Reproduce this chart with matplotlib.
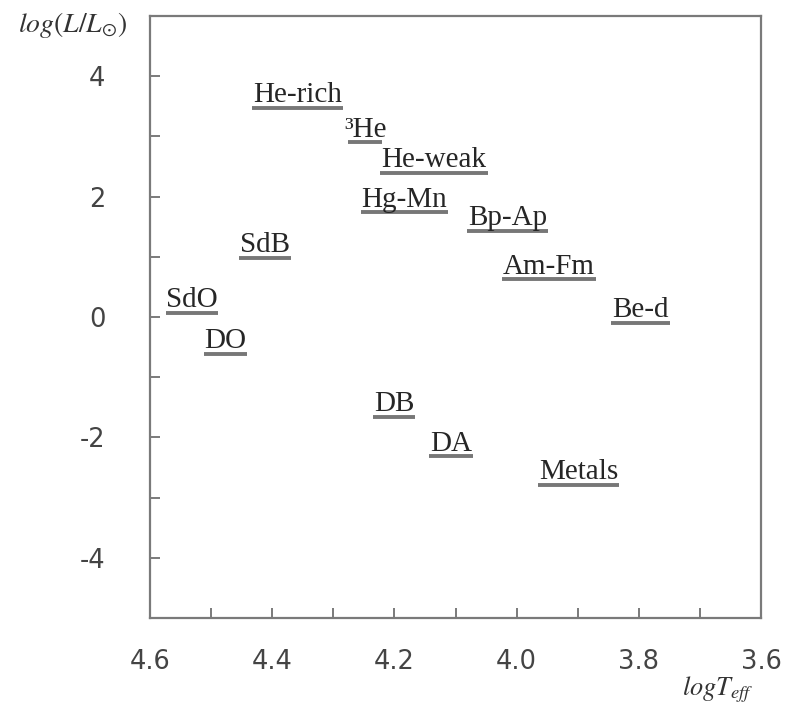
import matplotlib
matplotlib.use('Agg')
import matplotlib.pyplot as plt
import numpy as np

# --- dados: classes de estrelas no diagrama HR ---
labels = ['He-rich', '\u00b3He', 'He-weak', 'Hg-Mn', 'Bp-Ap', 'SdB', 'Am-Fm',
          'SdO', 'Be-d', 'DO', 'DB', 'DA', 'Metals']
teff_start = [4.433, 4.276, 4.224, 4.255, 4.081, 4.454, 4.024,
              4.574, 3.846, 4.512, 4.235, 4.143, 3.965]
teff_end = [4.284, 4.220, 4.047, 4.112, 3.949, 4.369, 3.870,
            4.489, 3.749, 4.441, 4.166, 4.071, 3.832]
log_lum = [3.48, 2.90, 2.40, 1.74, 1.43, 0.98, 0.63,
           0.07, -0.10, -0.61, -1.66, -2.31, -2.79]

x_major = [4.6, 4.4, 4.2, 4.0, 3.8, 3.6]
x_minor = [4.5, 4.3, 4.1, 3.9, 3.7]
y_major = [4, 2, 0, -2, -4]
y_minor = [3, 1, -1, -3]

W, H = 795, 711
fig = plt.figure(figsize=(W / 100, H / 100), dpi=100)
ax = fig.add_axes([150 / W, 1 - 618 / H, 611 / W, 602 / H])

ax.set_xlim(4.6, 3.6)
ax.set_ylim(-5, 5)

spine_col = '#7a7a7a'
for s in ax.spines.values():
    s.set_color(spine_col)
    s.set_linewidth(1.6)

ax.set_xticks(x_major)
ax.set_xticks(x_minor, minor=True)
ax.set_yticks(y_major)
ax.set_yticks(y_minor, minor=True)
ax.set_xticklabels([f'{v:.1f}' for v in x_major])
ax.set_yticklabels([str(v) for v in y_major])
ax.tick_params(which='both', direction='in', length=7, width=1.4, color=spine_col,
               top=False, right=False)
ax.tick_params(axis='x', which='major', pad=22, labelsize=18.5, labelcolor='#444444')
ax.tick_params(axis='y', which='major', pad=32, labelsize=18.5, labelcolor='#444444')

# rótulos sublinhados
for lab, x0, x1, y in zip(labels, teff_start, teff_end, log_lum):
    ax.plot([x0, x1], [y, y], color='#777777', lw=2.8, solid_capstyle='butt')
    ax.annotate(lab, xy=((x0 + x1) / 2, y), xytext=(0, 4), textcoords='offset points',
                ha='center', va='baseline', fontsize=21, family='Liberation Serif',
                color='#262626')

plt.rcParams['mathtext.fontset'] = 'stix'
fig.text(18 / W, 1 - 32 / H, r'$\mathit{log(L/L_{\odot})}$', fontsize=20,
         color='#333333', ha='left', va='baseline')
fig.text(682 / W, 1 - 695 / H, r'$\mathit{logT_{eff}}$', fontsize=19,
         color='#333333', ha='left', va='baseline')

fig.savefig('out.png', dpi=100)
